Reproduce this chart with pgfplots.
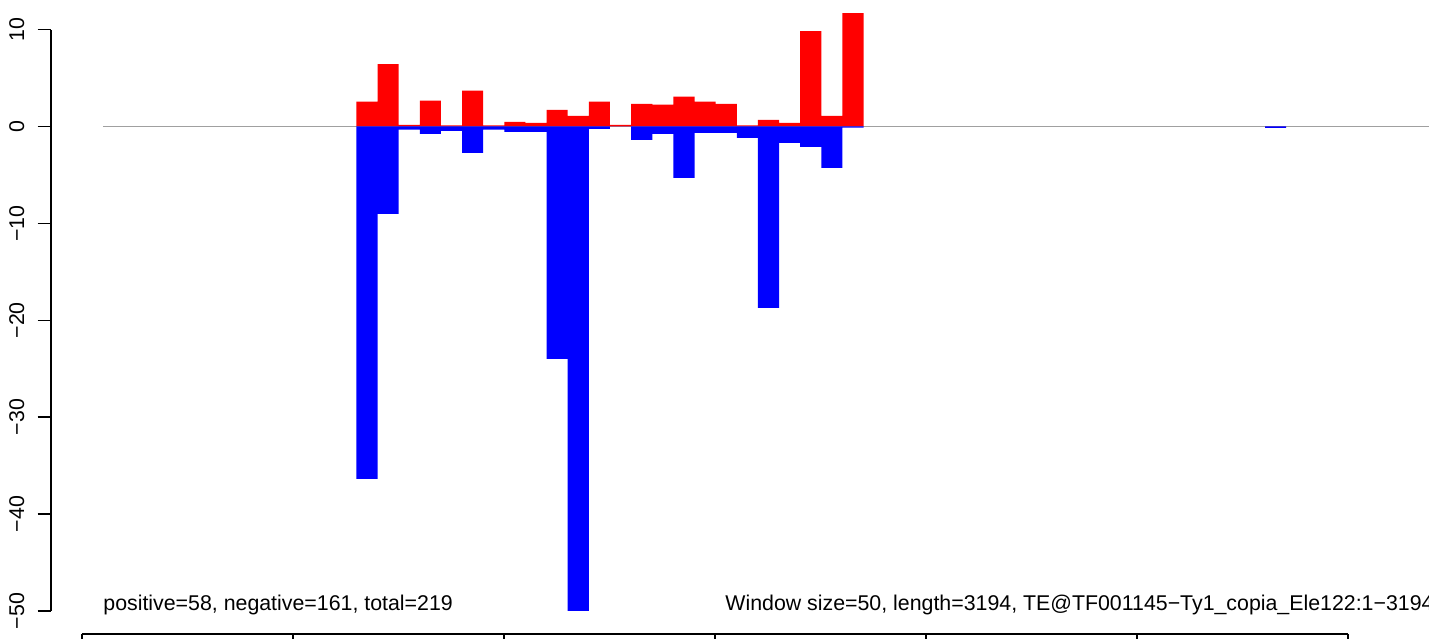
\documentclass[border=0pt]{standalone}
\usepackage{pgfplots}
\pgfplotsset{compat=1.18}
\usepackage{pgfplotstable}
\usepackage{fontspec}
\setmainfont{Liberation Sans}
\definecolor{rred}{HTML}{FF0000}
\definecolor{rblue}{HTML}{0000FF}
\definecolor{rgrey}{HTML}{A0A0A0}
\newcommand{\rfont}{\fontsize{10.67pt}{12pt}\selectfont}

% window centre (bp), positive, negative
\pgfplotstableread{
x pos neg
625 2.55 -36.38
675 6.42 -9.03
725 0.17 -0.34
775 2.66 -0.76
825 0.10 -0.45
875 3.69 -2.72
925 0.10 -0.34
975 0.48 -0.55
1025 0.38 -0.55
1075 1.72 -23.99
1125 1.10 -50
1175 2.55 -0.24
1225 0.15 0
1275 2.34 -1.38
1325 2.24 -0.76
1375 3.07 -5.31
1425 2.55 -0.66
1475 2.34 -0.66
1525 0.10 -1.17
1575 0.69 -18.73
1625 0.38 -1.69
1675 9.83 -2.10
1725 1.10 -4.28
1775 11.70 -0.12
2775 0 -0.15
}\windows

\begin{document}
\begin{tikzpicture}[x=1pt,y=1pt]
\useasboundingbox (0,0) rectangle (714.5,319);
% data panel
\begin{axis}[
  at={(0pt,0pt)}, anchor=south west,
  scale only axis, width=714.5pt, height=319pt,
  xmin=-243.2, xmax=3137.8,
  ymin=-52.79, ymax=13.05,
  axis lines=none,
  clip=true,
]
\addplot[rgrey, line width=0.8pt] coordinates {(0,0) (3194,0)};
\addplot[ybar, bar width=50, bar shift=0pt, fill=rred, draw=none] table[x=x, y=pos] {\windows};
\addplot[ybar, bar width=50, bar shift=0pt, fill=rblue, draw=none] table[x=x, y=neg] {\windows};
% bottom track
\addplot[black, line width=1pt] coordinates {(-49.2,-52.37) (2946,-52.37)};
\addplot[black, line width=0.6pt] coordinates {(-49.2,-52.37) (-49.2,-54)};
\addplot[black, line width=0.6pt] coordinates {(450,-52.37) (450,-54)};
\addplot[black, line width=0.6pt] coordinates {(949.2,-52.37) (949.2,-54)};
\addplot[black, line width=0.6pt] coordinates {(1448.5,-52.37) (1448.5,-54)};
\addplot[black, line width=0.6pt] coordinates {(1947.7,-52.37) (1947.7,-54)};
\addplot[black, line width=0.6pt] coordinates {(2447,-52.37) (2447,-54)};
\addplot[black, line width=0.6pt] coordinates {(2946,-52.37) (2946,-54)};
\end{axis}
% y axis, R style
\begin{axis}[
  at={(25.5pt,13.5pt)}, anchor=south west,
  scale only axis, width=20pt, height=290.7pt,
  xmin=0, xmax=1, ymin=-50, ymax=10,
  axis y line*=left, axis x line=none,
  xtick=\empty,
  ytick={-50,-40,-30,-20,-10,0,10},
  yticklabels={−50,−40,−30,−20,−10,0,10},
  tick align=outside, major tick length=6.65pt,
  axis line style={line width=0.8pt},
  every tick/.style={black, line width=0.8pt},
  yticklabel style={xshift=-6.5pt, rotate=90, anchor=south, inner sep=0pt, font=\rfont},
]
\addplot[draw=none] coordinates {(0,0)};
\end{axis}
\node[anchor=base west, inner sep=0pt, font=\rfont] at (51.5,14) {positive=58, negative=161, total=219};
\node[anchor=base west, inner sep=0pt, font=\rfont] at (362.5,14) {Window size=50, length=3194, TE@TF001145−Ty1\_copia\_Ele122:1−3194};
\end{tikzpicture}
\end{document}
